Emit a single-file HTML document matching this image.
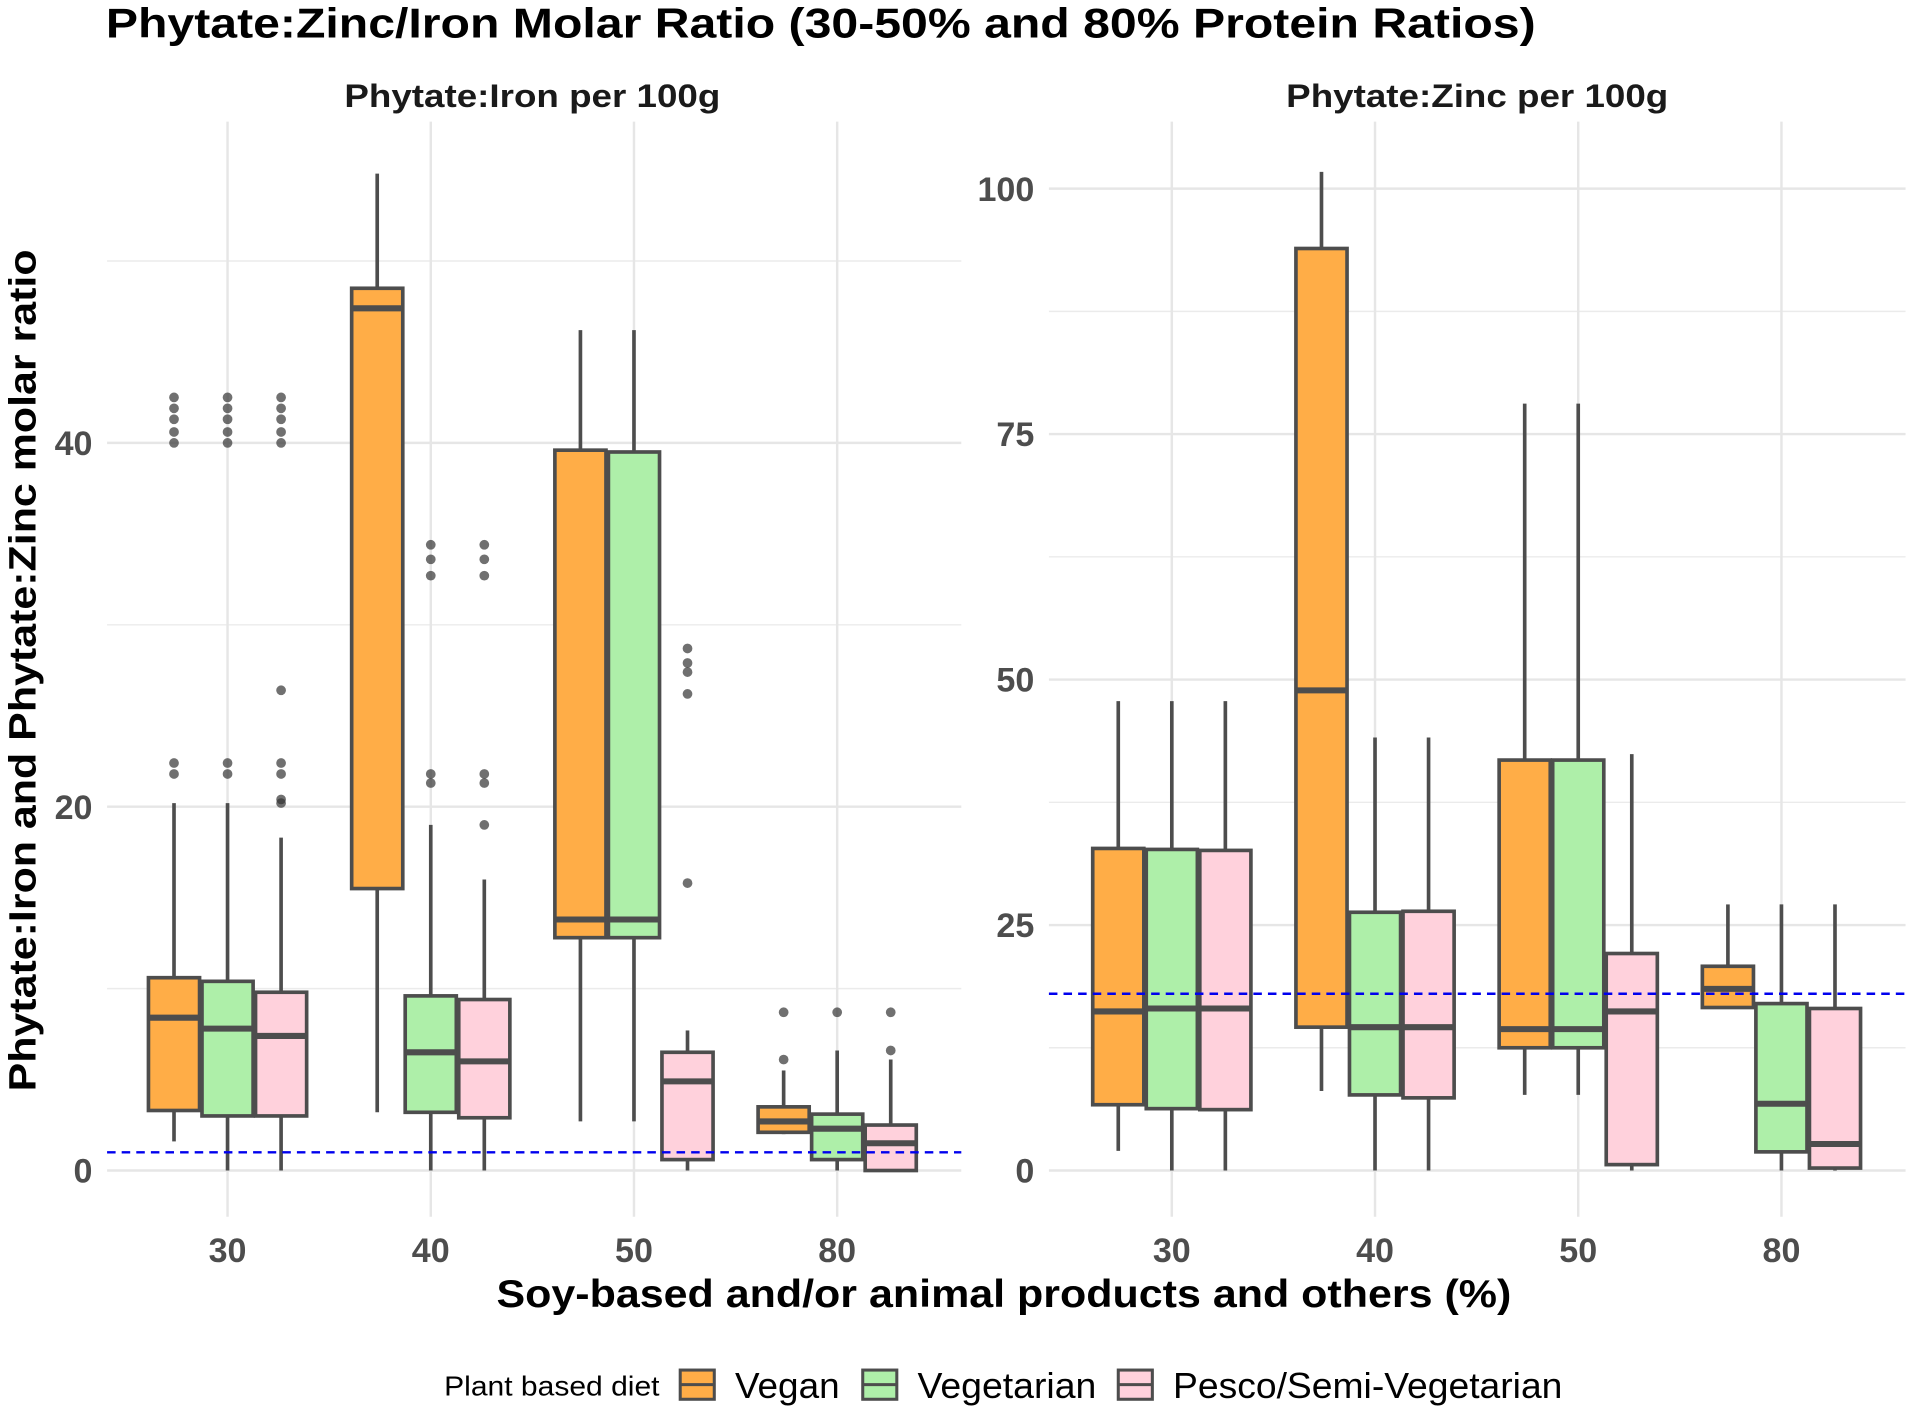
<!DOCTYPE html>
<html><head><meta charset="utf-8"><style>
html,body{margin:0;padding:0;background:#fff;}
svg{display:block;font-family:"Liberation Sans",sans-serif;}
</style></head><body>
<svg id="chart" width="1908" height="1409" viewBox="0 0 1568 1158" preserveAspectRatio="none" xmlns="http://www.w3.org/2000/svg">
<text x="87" y="31" font-size="34" font-weight="bold" fill="#000" textLength="1175" lengthAdjust="spacingAndGlyphs">Phytate:Zinc/Iron Molar Ratio (30-50% and 80% Protein Ratios)</text>
<text x="283" y="88" font-size="27" font-weight="bold" fill="#1a1a1a" textLength="309" lengthAdjust="spacingAndGlyphs">Phytate:Iron per 100g</text>
<text x="1057" y="88" font-size="27" font-weight="bold" fill="#1a1a1a" textLength="314" lengthAdjust="spacingAndGlyphs">Phytate:Zinc per 100g</text>
<g id="left"></g>
<g id="right"></g>
<text x="408" y="1074" font-size="32" font-weight="bold" fill="#000" textLength="834" lengthAdjust="spacingAndGlyphs">Soy-based and/or animal products and others (%)</text>
<text transform="translate(29,897) rotate(-90)" font-size="31" font-weight="bold" fill="#000" textLength="692" lengthAdjust="spacingAndGlyphs">Phytate:Iron and Phytate:Zinc molar ratio</text>
<g>
<text x="365" y="1147" font-size="23" fill="#000" textLength="177" lengthAdjust="spacingAndGlyphs">Plant based diet</text>
<g><rect x="559" y="1126" width="28" height="24" fill="#FFAD47" stroke="#4d4d4d" stroke-width="2.5"/><line x1="559" y1="1138" x2="587" y2="1138" stroke="#4d4d4d" stroke-width="2.5"/><text x="604" y="1149" font-size="30" fill="#000" textLength="86" lengthAdjust="spacingAndGlyphs">Vegan</text></g>
<g><rect x="709" y="1126" width="28" height="24" fill="#AEEFA9" stroke="#4d4d4d" stroke-width="2.5"/><line x1="709" y1="1138" x2="737" y2="1138" stroke="#4d4d4d" stroke-width="2.5"/><text x="754" y="1149" font-size="30" fill="#000" textLength="147" lengthAdjust="spacingAndGlyphs">Vegetarian</text></g>
<g><rect x="919" y="1126" width="28" height="24" fill="#FFD1DC" stroke="#4d4d4d" stroke-width="2.5"/><line x1="919" y1="1138" x2="947" y2="1138" stroke="#4d4d4d" stroke-width="2.5"/><text x="964" y="1149" font-size="30" fill="#000" textLength="320" lengthAdjust="spacingAndGlyphs">Pesco/Semi-Vegetarian</text></g>
</g>
</svg>
<script>
const categories = ["30","40","50","80"];
const groups = ["Vegan","Vegetarian","Pesco/Semi-Vegetarian"];
const colors = ["#FFAD47","#AEEFA9","#FFD1DC"];
// [low, q1, median, q3, high] per category per group
const ironStats = [
  [[1.6,3.3,8.4,10.6,20.2],[0,3.0,7.8,10.4,20.2],[0,3.0,7.4,9.8,18.3]],
  [[3.2,15.5,47.4,48.5,54.8],[0,3.2,6.5,9.6,19.0],[0,2.9,6.0,9.4,16.0]],
  [[2.7,12.8,13.8,39.6,46.2],[2.7,12.8,13.8,39.5,46.2],[0,0.6,4.9,6.5,7.7]],
  [[2.0,2.1,2.7,3.5,5.5],[0,0.6,2.3,3.1,6.6],[0,0,1.5,2.5,6.1]]
];
const ironOutliers = [
  [[21.8,22.4,40,40.6,41.3,41.9,42.5],[21.8,22.4,40,40.6,41.3,41.9,42.5],[20.2,20.4,21.8,22.4,26.4,40,40.6,41.3,41.9,42.5]],
  [[],[21.3,21.8,32.7,33.6,34.4],[19.0,21.3,21.8,32.7,33.6,34.4]],
  [[],[],[15.8,26.2,27.4,27.9,28.7]],
  [[6.1,8.7],[8.7],[6.6,8.7]]
];
const zincStats = [
  [[2.0,6.7,16.2,32.8,47.8],[0,6.3,16.5,32.7,47.8],[0,6.2,16.5,32.6,47.8]],
  [[8.1,14.6,48.9,93.9,101.7],[0,7.7,14.6,26.3,44.1],[0,7.4,14.6,26.4,44.1]],
  [[7.7,12.5,14.4,41.8,78.1],[7.7,12.5,14.4,41.8,78.1],[0,0.6,16.2,22.1,42.4]],
  [[16.6,16.6,18.5,20.8,27.1],[0,1.9,6.8,17.0,27.1],[0,0.25,2.7,16.5,27.1]]
];
const zincOutliers = [[[],[],[]],[[],[],[]],[[],[],[]],[[],[],[]]];
const ironTicks = [0,20,40];
const ironMinor = [10,30,50];
const zincTicks = [0,25,50,75,100];
const zincMinor = [12.5,37.5,62.5,87.5];
const ironRef = 1;
const zincRef = 18;

const NS="http://www.w3.org/2000/svg";
function mk(parent,tag,attrs){const e=document.createElementNS(NS,tag);for(const k in attrs)e.setAttribute(k,attrs[k]);parent.appendChild(e);return e;}

function panel(g,cfg){
  const y=v=>cfg.y0-(v)*cfg.pxPer;
  const x=i=>cfg.x0+i*167;
  cfg.minor.forEach(t=>{const l=mk(g,"line",{x1:cfg.left,x2:cfg.right,y1:y(t),y2:y(t),stroke:"#ebebeb","stroke-width":1.2});
    
    });
  cfg.ticks.forEach(t=>{const l=mk(g,"line",{x1:cfg.left,x2:cfg.right,y1:y(t),y2:y(t),stroke:"#e6e6e6","stroke-width":2});
    
    
    const tx=mk(g,"text",{x:cfg.left-12,y:y(t)+10,"font-size":28,"font-weight":"bold",fill:"#4d4d4d","text-anchor":"end"});
    tx.textContent=t;
    
    });
  categories.forEach((c,i)=>{const l=mk(g,"line",{x1:x(i),x2:x(i),y1:cfg.top,y2:cfg.bottom,stroke:"#e6e6e6","stroke-width":2});
    
    
    const tx=mk(g,"text",{x:x(i),y:1037,"font-size":28,"font-weight":"bold",fill:"#4d4d4d","text-anchor":"middle"});
    tx.textContent=c;
    
    });
  categories.forEach((c,i)=>{
    groups.forEach((gr,j)=>{
      const s=cfg.stats[i][j]; const cx=x(i)+(j-1)*44; const hw=21;
      const bg=mk(g,"g",{});
      
      
      mk(bg,"line",{x1:cx,x2:cx,y1:y(s[0]),y2:y(s[1]),stroke:"#4d4d4d","stroke-width":3});
      mk(bg,"line",{x1:cx,x2:cx,y1:y(s[3]),y2:y(s[4]),stroke:"#4d4d4d","stroke-width":3});
      mk(bg,"rect",{x:cx-hw,y:y(s[3]),width:hw*2,height:Math.max(0.5,y(s[1])-y(s[3])),fill:colors[j],stroke:"#4d4d4d","stroke-width":3});
      mk(bg,"line",{x1:cx-hw,x2:cx+hw,y1:y(s[2]),y2:y(s[2]),stroke:"#4d4d4d","stroke-width":5});
      cfg.outliers[i][j].forEach(v=>{const p=mk(bg,"circle",{cx:cx,cy:y(v),r:4,fill:"#333","fill-opacity":0.7});
        
        });
    });
  });
  const r=mk(g,"line",{x1:cfg.left,x2:cfg.right,y1:y(cfg.ref),y2:y(cfg.ref),stroke:"#0000ee","stroke-width":2,"stroke-dasharray":"7,5"});
  
  
}
panel(document.getElementById("left"),{x0:187,y0:962,pxPer:14.95,left:88,right:790,top:100,bottom:1000,ticks:ironTicks,minor:ironMinor,stats:ironStats,outliers:ironOutliers,ref:ironRef});
panel(document.getElementById("right"),{x0:963,y0:962,pxPer:8.07,left:862,right:1566,top:100,bottom:1000,ticks:zincTicks,minor:zincMinor,stats:zincStats,outliers:zincOutliers,ref:zincRef});
</script>
</body></html>
